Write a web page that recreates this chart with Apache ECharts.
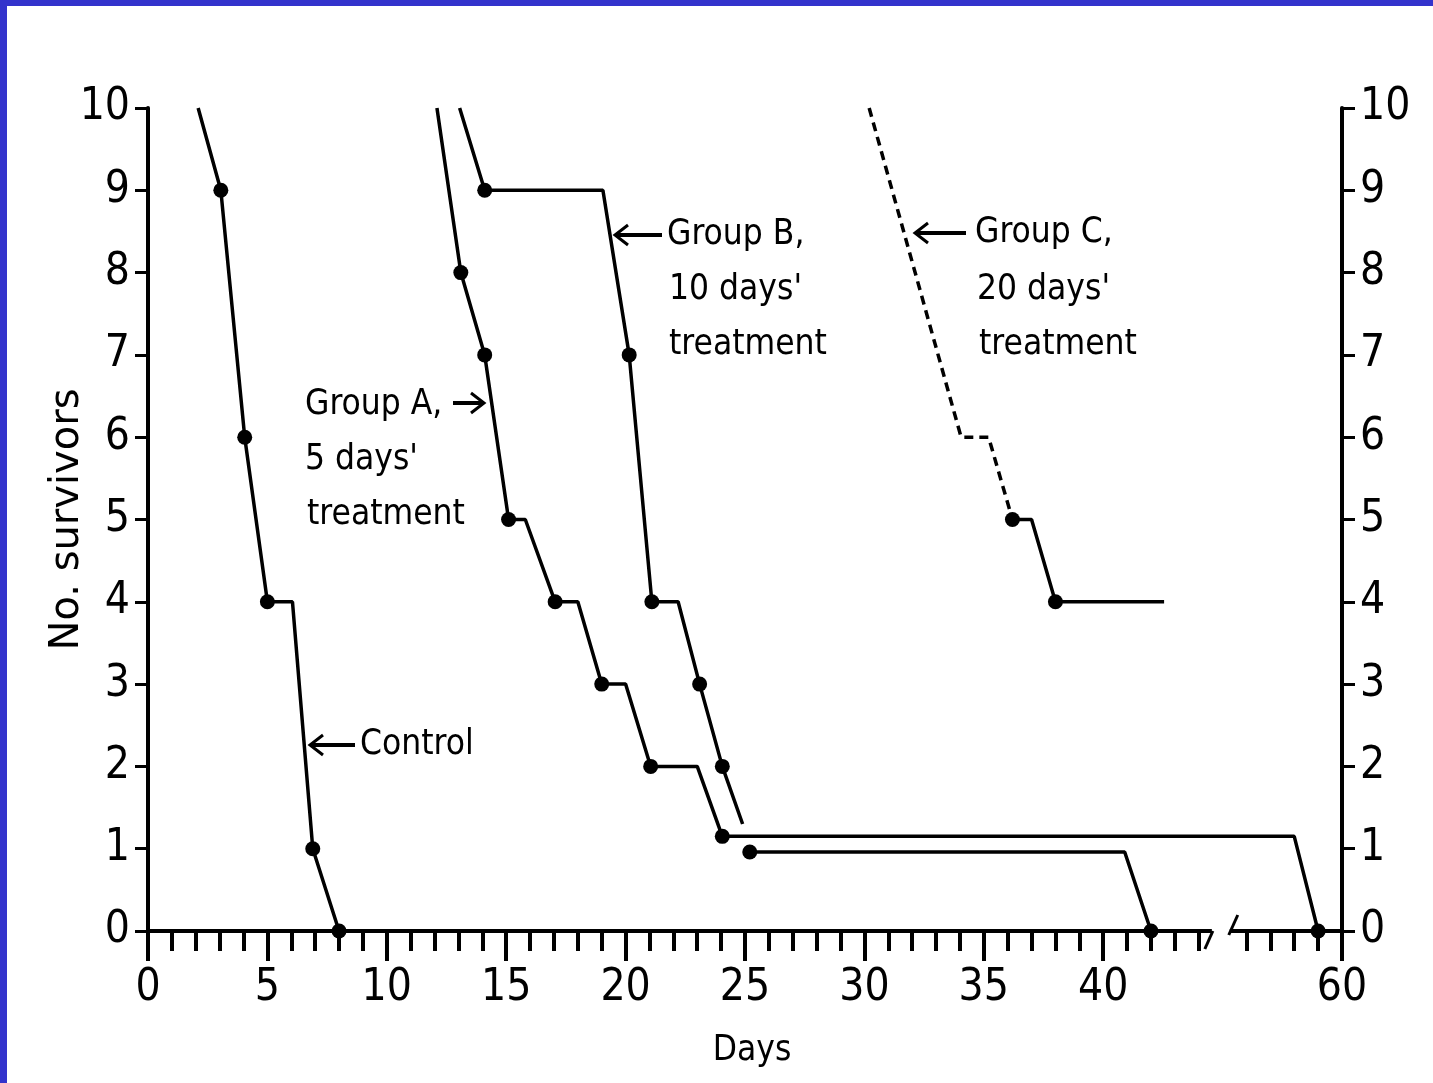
<!DOCTYPE html>
<html><head><meta charset="utf-8">
<script src="https://cdn.jsdelivr.net/npm/echarts@6/dist/echarts.min.js"></script>
<style>
html,body{margin:0;padding:0;background:#fff;}
#wrap{position:relative;width:1433px;height:1083px;overflow:hidden;background:#fff;}
#chart{position:absolute;left:0;top:0;width:1433px;height:1083px;}
.bt{position:absolute;left:0;top:0;width:1433px;height:6px;background:#3333cc;}
.bl{position:absolute;left:0;top:0;width:7px;height:1083px;background:#3333cc;}
</style></head><body>
<div id="wrap"><div id="chart"></div><div class="bt"></div><div class="bl"></div></div>
<script>
// ---- data (real days; axis is broken between ~44.5 and ~55.5 days) ----
const xTickDays = [0, 5, 10, 15, 20, 25, 30, 35, 40, 60];
const yTicks = [0, 1, 2, 3, 4, 5, 6, 7, 8, 9, 10];

const controlDays = [2.1, 3.05, 4.05, 5.0, 6.05, 6.9, 8.0];
const controlSurv = [10, 9, 6, 4, 4, 1, 0];
const controlDot  = [0, 1, 1, 1, 0, 1, 1];

const groupADays = [12.1, 13.1, 14.1, 15.1, 15.8, 17.05, 18.0, 19.0, 20.0, 21.05, 23.0, 24.05, 58.0, 59.0];
const groupASurv = [10, 8, 7, 5, 5, 4, 4, 3, 3, 2, 2, 1.15, 1.15, 0];
const groupADot  = [0, 1, 1, 1, 0, 1, 0, 1, 0, 1, 0, 1, 0, 1];

const groupB1Days = [13.05, 14.1, 19.05, 20.15, 21.1, 22.2, 23.1, 24.05, 24.9];
const groupB1Surv = [10, 9, 9, 7, 4, 4, 3, 2, 1.3];
const groupB1Dot  = [0, 1, 0, 1, 1, 0, 1, 1, 0];
const groupB2Days = [25.2, 40.9, 42.0];
const groupB2Surv = [0.96, 0.96, 0];
const groupB2Dot  = [1, 0, 1];

const groupCDashDays = [30.2, 34.05, 35.2, 36.2];
const groupCDashSurv = [10, 6, 6, 5];
const groupCSolidDays = [36.2, 37.0, 38.0, 42.55];
const groupCSolidSurv = [5, 5, 4, 4];
const groupCSolidDot  = [1, 0, 1, 0];

// ---- axis break: days >= 55 are shifted left by 10 ----
const BREAK_FROM = 45, BREAK_SHIFT = 10;
function toAxis(d) { return d >= BREAK_FROM + BREAK_SHIFT ? d - BREAK_SHIFT : d; }
function fromAxis(v) { return v > BREAK_FROM ? v + BREAK_SHIFT : v; }

function build(days, surv, dots) {
  return days.map((d, i) => ({
    value: [toAxis(d), surv[i]],
    symbol: dots && dots[i] ? 'circle' : 'none'
  }));
}

const FONT = '"DejaVu Sans Condensed","Liberation Sans Narrow","Liberation Sans",sans-serif';
const lineSeries = (name, data, dashed) => ({
  name, type: 'line', data, symbolSize: 15,
  itemStyle: { color: '#000' },
  lineStyle: { color: '#000', width: 3.5, type: dashed ? [9, 6] : 'solid' },
  showSymbol: true, animation: false, z: 3
});

const chart = echarts.init(document.getElementById('chart'), null, { renderer: 'canvas' });
const yAxisBase = {
  type: 'value', min: 0, max: 10, interval: 1,
  axisLine: { show: true, lineStyle: { color: '#000', width: 4 } },
  axisTick: { show: true, length: 13, lineStyle: { color: '#000', width: 3 } },
  splitLine: { show: false },
  axisLabel: { color: '#000', fontSize: 44, fontFamily: FONT, margin: 18,
    formatter: v => yTicks.includes(v) ? String(v) : '' }
};
const xMaxAxis = toAxis(60);
chart.setOption({
  backgroundColor: 'transparent',
  animation: false,
  grid: { left: 148, right: 91, top: 108, bottom: 152, containLabel: false },
  xAxis: {
    type: 'value', min: 0, max: xMaxAxis, interval: 5,
    name: 'Days', nameLocation: 'middle', nameGap: 102, nameMoveOverlap: false,
    nameTextStyle: { color: '#000', fontSize: 35, fontFamily: FONT, padding: [0, 0, 0, 14] },
    axisLine: { show: true, onZero: false, lineStyle: { color: '#000', width: 4 } },
    axisTick: { show: true, length: 30, lineStyle: { color: '#000', width: 4 } },
    minorTick: { show: true, splitNumber: 5, length: 20, lineStyle: { color: '#000', width: 4 } },
    splitLine: { show: false }, minorSplitLine: { show: false },
    axisLabel: { color: '#000', fontSize: 44, fontFamily: FONT, margin: 36,
      formatter: v => { const d = Math.round(fromAxis(v)); return xTickDays.includes(d) && (v <= 40 || v === xMaxAxis) ? String(d) : ''; } }
  },
  yAxis: [
    Object.assign({}, yAxisBase, { position: 'left', name: 'No. survivors', nameLocation: 'middle',
      nameGap: 60, nameRotate: 90, nameMoveOverlap: false,
      nameTextStyle: { color: '#000', fontSize: 40, fontFamily: '"DejaVu Sans",sans-serif' } }),
    Object.assign({}, yAxisBase, { position: 'right' })
  ],
  series: [
    lineSeries('Control', build(controlDays, controlSurv, controlDot)),
    lineSeries('Group A', build(groupADays, groupASurv, groupADot)),
    lineSeries('Group B', build(groupB1Days, groupB1Surv, groupB1Dot)),
    lineSeries('Group B (cont.)', build(groupB2Days, groupB2Surv, groupB2Dot)),
    lineSeries('Group C', build(groupCDashDays, groupCDashSurv, null), true),
    lineSeries('Group C (cont.)', build(groupCSolidDays, groupCSolidSurv, groupCSolidDot))
  ]
});

// ---- annotations and axis-break marks ----
const P = (x, y) => chart.convertToPixel({ xAxisIndex: 0, yAxisIndex: 0 }, [x, y]);
const txt = (x, y, t) => ({ type: 'text', x, y, z: 10,
  style: { text: t, fill: '#000', fontSize: 35, fontFamily: FONT, align: 'left', verticalAlign: 'middle' } });
const arrow = (tipX, tailX, y) => {
  const dir = tailX > tipX ? 1 : -1;
  return [
    { type: 'line', z: 10, shape: { x1: tipX + dir * 2, y1: y, x2: tailX, y2: y }, style: { stroke: '#000', lineWidth: 4 } },
    { type: 'polyline', z: 10, shape: { points: [[tipX + dir * 13, y - 10], [tipX, y], [tipX + dir * 13, y + 10]] },
      style: { stroke: '#000', lineWidth: 3, fill: null } }
  ];
};
const b0 = P(44.55, 0), b1 = P(45.3, 0);
const graphics = [
  { type: 'rect', z: 20, shape: { x: b0[0], y: b0[1] - 4, width: b1[0] - b0[0], height: 40 }, style: { fill: '#fff' } },
  { type: 'line', z: 21, shape: { x1: b0[0] - 7, y1: b0[1] + 18, x2: b0[0] + 1, y2: b0[1] }, style: { stroke: '#000', lineWidth: 3 } },
  { type: 'line', z: 21, shape: { x1: b1[0] - 1, y1: b1[1] + 4, x2: b1[0] + 8, y2: b1[1] - 16 }, style: { stroke: '#000', lineWidth: 3 } },
  txt(360, 745, 'Control'),
  ...arrow(310, 355, 745),
  txt(305, 405, 'Group A,'),
  ...arrow(484, 453, 403),
  txt(305, 460, "5 days'"),
  txt(307, 515, 'treatment'),
  txt(667, 235, 'Group B,'),
  ...arrow(615, 662, 235),
  txt(669, 290, "10 days'"),
  txt(669, 345, 'treatment'),
  txt(975, 233, 'Group C,'),
  ...arrow(915, 966, 233),
  txt(977, 290, "20 days'"),
  txt(979, 345, 'treatment')
];
chart.setOption({ graphic: graphics });
</script>
</body></html>
